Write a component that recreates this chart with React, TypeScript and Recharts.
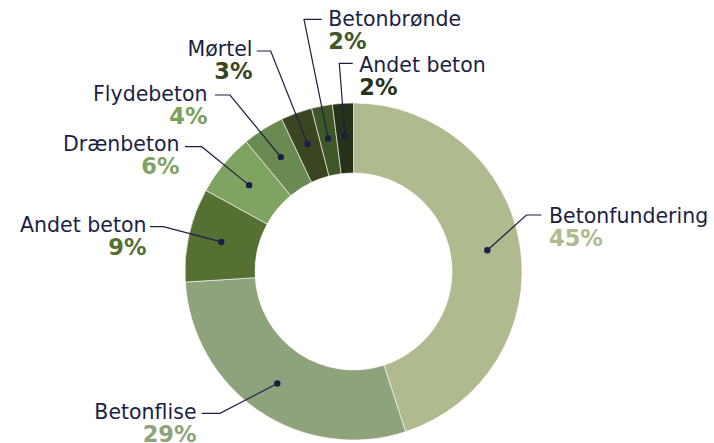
import React from "react";
import { PieChart, Pie, Cell } from "recharts";

const names = ["Betonfundering", "Betonflise", "Andet beton", "Drænbeton", "Flydebeton", "Mørtel", "Betonbrønde", "Andet beton"];
const shares = [45, 29, 9, 6, 4, 3, 2, 2];
const colors = ["#afbb8e", "#8ea27b", "#566f33", "#7fa462", "#698a51", "#3a4622", "#3f5628", "#27321a"];
const pctColors = ["#afbb8e", "#8ea27b", "#566f33", "#7fa462", "#7ba05e", "#3a4622", "#3f5628", "#27321a"];

const data = names.map((name, i) => ({ name, value: shares[i] }));

// leader line elbow / text placement, offsets from the pie centre
const labelLayout = [
	{ ex: 173, ly: -56.5, endX: 188, tx: 195.5, ty: -48.5, anchor: "start" },
	{ ex: -133.5, ly: 141.8, endX: -151.8, tx: -157, ty: 147.5, anchor: "end" },
	{ ex: -190.2, ly: -44.8, endX: -203.5, tx: -207, ty: -39.8, anchor: "end" },
	{ ex: -151.8, ly: -124.8, endX: -168.5, tx: -174, ty: -120.5, anchor: "end" },
	{ ex: -123.5, ly: -176.5, endX: -138.5, tx: -146, ty: -170.8, anchor: "end" },
	{ ex: -82.8, ly: -220.5, endX: -96.8, tx: -101, ty: -215.5, anchor: "end" },
	{ ex: -49.5, ly: -252.2, endX: -31.8, tx: -25.2, ty: -245.8, anchor: "start" },
	{ ex: -14.2, ly: -208.2, endX: -0.8, tx: 5.8, ty: -199.8, anchor: "start" },
];

const NAVY = "#1c1f45";
const FONT = "'DejaVu Sans', sans-serif";

function SliceLabel(props: any) {
	const { cx, cy, midAngle, innerRadius, outerRadius, index } = props;
	const lay = labelLayout[index];
	const RAD = Math.PI / 180;
	const r = (innerRadius + outerRadius) / 2 + 2;
	const dx = cx + r * Math.cos(-midAngle * RAD);
	const dy = cy + r * Math.sin(-midAngle * RAD);
	const ex = cx + lay.ex;
	const ly = cy + lay.ly;
	return (
		<g>
			<polyline
				points={`${dx},${dy} ${ex},${ly} ${cx + lay.endX},${ly}`}
				fill="none"
				stroke={NAVY}
				strokeWidth={1.2}
			/>
			<circle cx={dx} cy={dy} r={3.2} fill={NAVY} />
			<text x={cx + lay.tx} y={cy + lay.ty} textAnchor={lay.anchor} fill={NAVY} fontSize={20.5} fontFamily={FONT}>
				{names[index]}
			</text>
			<text
				x={cx + lay.tx}
				y={cy + lay.ty + 22.8}
				textAnchor={lay.anchor}
				fill={pctColors[index]}
				fontSize={22.5}
				fontWeight={700}
				fontFamily={FONT}
			>
				{shares[index]}%
			</text>
		</g>
	);
}

export default function App() {
	return (
		<div style={{ position: "absolute", left: 0, top: 0, width: 714, height: 443, background: "#fff" }}>
			<PieChart width={714} height={443} margin={{ top: 0, right: 0, bottom: 0, left: 0 }}>
				<Pie
					data={data}
					dataKey="value"
					nameKey="name"
					cx={353.5}
					cy={271.5}
					innerRadius={98.5}
					outerRadius={168.5}
					startAngle={90}
					endAngle={-270}
					stroke="#ffffff"
					strokeWidth={0.6}
					label={SliceLabel}
					labelLine={false}
					isAnimationActive={false}
				>
					{data.map((_, i) => (
						<Cell key={`cell-${i}`} fill={colors[i]} />
					))}
				</Pie>
			</PieChart>
		</div>
	);
}
